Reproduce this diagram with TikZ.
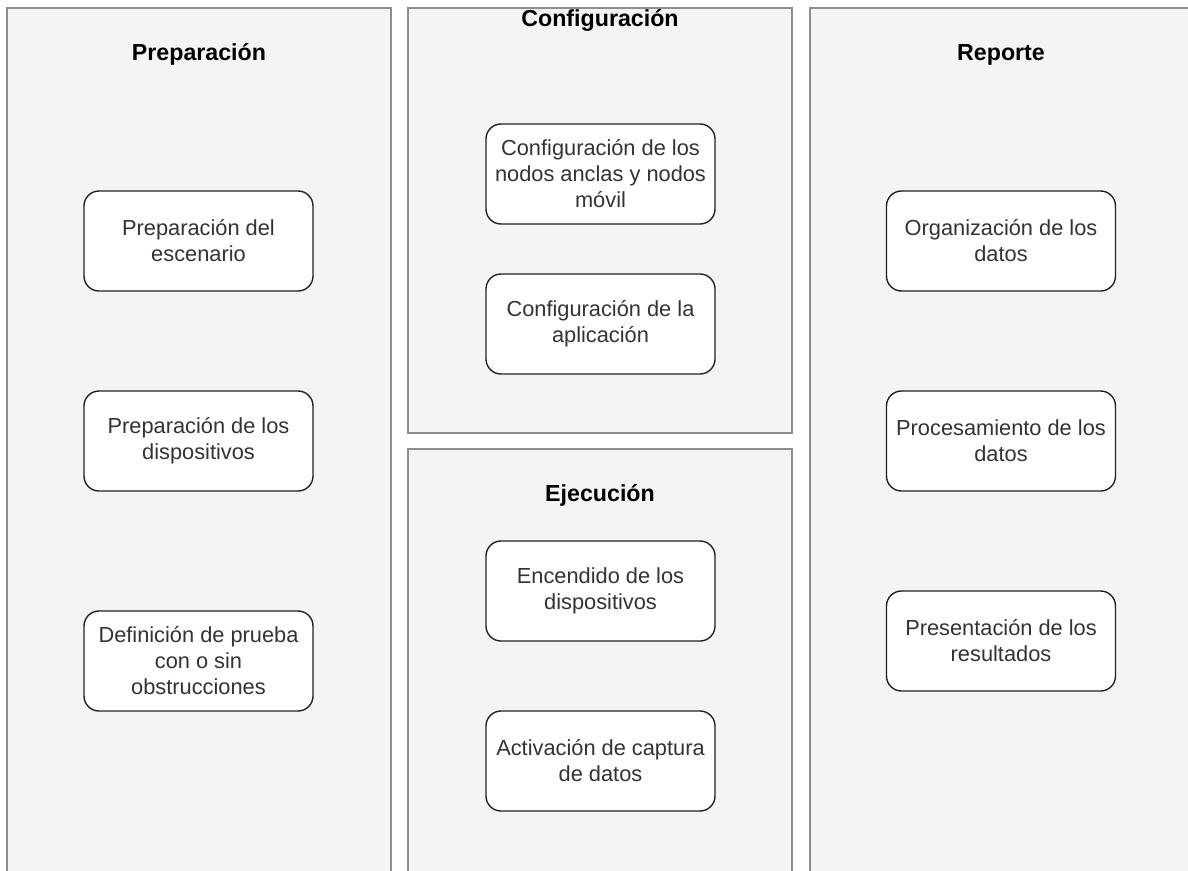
\documentclass[tikz,border=0pt]{standalone}
\usepackage{fontspec}
\setmainfont{Liberation Sans}
\definecolor{panelfill}{HTML}{F4F4F4}
\definecolor{panelline}{HTML}{8E8E8E}
\definecolor{boxline}{HTML}{222222}
\definecolor{boxtext}{HTML}{333333}
\begin{document}
\begin{tikzpicture}[x=1pt,y=-1pt,
  panel/.style={draw=panelline, fill=panelfill, line width=1.6pt},
  stepbox/.style={draw=boxline, fill=white, rounded corners=15pt, line width=1.4pt,
    minimum width=229pt, minimum height=100pt, align=center, text=boxtext,
    font=\fontsize{21.8}{26}\selectfont, inner sep=0pt},
  title/.style={anchor=base, text=black, font=\fontsize{23.2}{27}\selectfont\bfseries}]
\useasboundingbox (0,0) rectangle (1188,870);
\clip (0,0) rectangle (1188,870);

% lane backgrounds
\path[panel] (7,8) rectangle (391,900);
\path[panel] (408,8) rectangle (792,433);
\path[panel] (408,449) rectangle (792,900);
\path[panel] (810,8) rectangle (1200,900);

% lane titles
\node[title] (tprep) at (199,60) {Preparación};
\node[title] (tconf) at (600,27) {Configuración};
\node[title] (tejec) at (600,501) {Ejecución};
\node[title] (trep) at (1001,60) {Reporte};

% Preparación
\node[stepbox] (p1) at (198.5,241) {Preparación del\\escenario};
\node[stepbox] (p2) at (198.5,441) {Preparación de los\\dispositivos};
\node[stepbox] (p3) at (198.5,661) {Definición de prueba\\con o sin\\obstrucciones};

% Configuración
\node[stepbox] (c1) at (600.5,174) {Configuración de los\\nodos anclas y nodos\\móvil};
\node[stepbox] (c2) at (600.5,324) {Configuración de la\\aplicación};

% Ejecución
\node[stepbox] (e1) at (600.5,591) {Encendido de los\\dispositivos};
\node[stepbox] (e2) at (600.5,761) {Activación de captura\\de datos};

% Reporte
\node[stepbox] (r1) at (1001,241) {Organización de los\\datos};
\node[stepbox] (r2) at (1001,441) {Procesamiento de los\\datos};
\node[stepbox] (r3) at (1001,641) {Presentación de los\\resultados};
\end{tikzpicture}
\end{document}
